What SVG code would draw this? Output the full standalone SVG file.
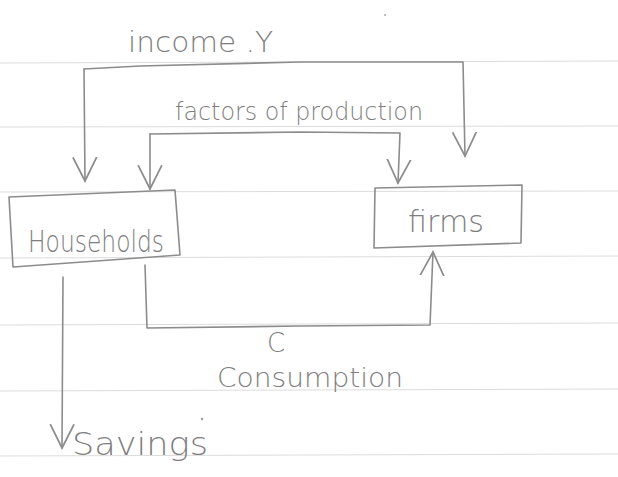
<svg xmlns="http://www.w3.org/2000/svg" width="618" height="477" viewBox="0 0 618 477">
<style>
.rule{stroke:#dcdcdc;stroke-width:1;fill:none}
.pen{stroke:#8c8c8c;stroke-width:1.6;fill:none;stroke-linejoin:round;stroke-linecap:round}
.lbl{fill:#7e7e7e;font-family:"DejaVu Sans","Liberation Sans",sans-serif;font-weight:300}
</style>
<defs>
<marker id="v" viewBox="0 0 12 12" refX="11" refY="6" markerWidth="26" markerHeight="26" markerUnits="userSpaceOnUse" orient="auto">
<path d="M0,0.5 L11,6 L0,11.5" fill="none" stroke="#8c8c8c" stroke-width="0.8"/>
</marker>
</defs>
<rect width="618" height="477" fill="#ffffff"/>
<g id="paper">
<line class="rule" x1="0" y1="63" x2="618" y2="61"/>
<line class="rule" x1="0" y1="127" x2="618" y2="126"/>
<line class="rule" x1="0" y1="192" x2="618" y2="191"/>
<line class="rule" x1="0" y1="258" x2="618" y2="256"/>
<line class="rule" x1="0" y1="325" x2="618" y2="323"/>
<line class="rule" x1="0" y1="391" x2="618" y2="389"/>
<line class="rule" x1="0" y1="456" x2="618" y2="454"/>
<circle cx="385" cy="15" r="1" fill="#aaa"/>
<circle cx="202" cy="419" r="1.2" fill="#999"/>
</g>
<g id="connectors">
<path class="pen" d="M84,69 L140,66 L300,62 L463,62 L465,156" marker-end="url(#v)"/>
<path class="pen" d="M84,69 L85,181" marker-end="url(#v)"/>
<path class="pen" d="M150,134 L300,132 L400,133 L398,183" marker-end="url(#v)"/>
<path class="pen" d="M150,134 L150,189" marker-end="url(#v)"/>
<path class="pen" d="M145,265 L147,328 L300,326 L430,325 L433,252" marker-end="url(#v)"/>
<path class="pen" d="M63,277 L62,448" marker-end="url(#v)"/>
</g>
<g id="households">
<path class="pen" d="M9,197 L175,190 L180,255 L13,267 Z"/>
<text class="lbl" x="28" y="252" font-size="30" textLength="136" lengthAdjust="spacingAndGlyphs">Households</text>
</g>
<g id="firms">
<path class="pen" d="M375,188 L522,185 L521,243 L374,248 Z"/>
<text class="lbl" x="408" y="232" font-size="30" textLength="76" lengthAdjust="spacingAndGlyphs">firms</text>
</g>
<g id="labels">
<text class="lbl" x="128" y="52" font-size="28" textLength="145" lengthAdjust="spacingAndGlyphs">income .Y</text>
<text class="lbl" x="175" y="120" font-size="24" textLength="248" lengthAdjust="spacingAndGlyphs">factors of production</text>
<text class="lbl" x="267" y="352" font-size="26">C</text>
<text class="lbl" x="217" y="387" font-size="26" textLength="186" lengthAdjust="spacingAndGlyphs">Consumption</text>
<text class="lbl" x="72" y="455" font-size="32" textLength="136" lengthAdjust="spacingAndGlyphs">Savings</text>
</g>
</svg>
